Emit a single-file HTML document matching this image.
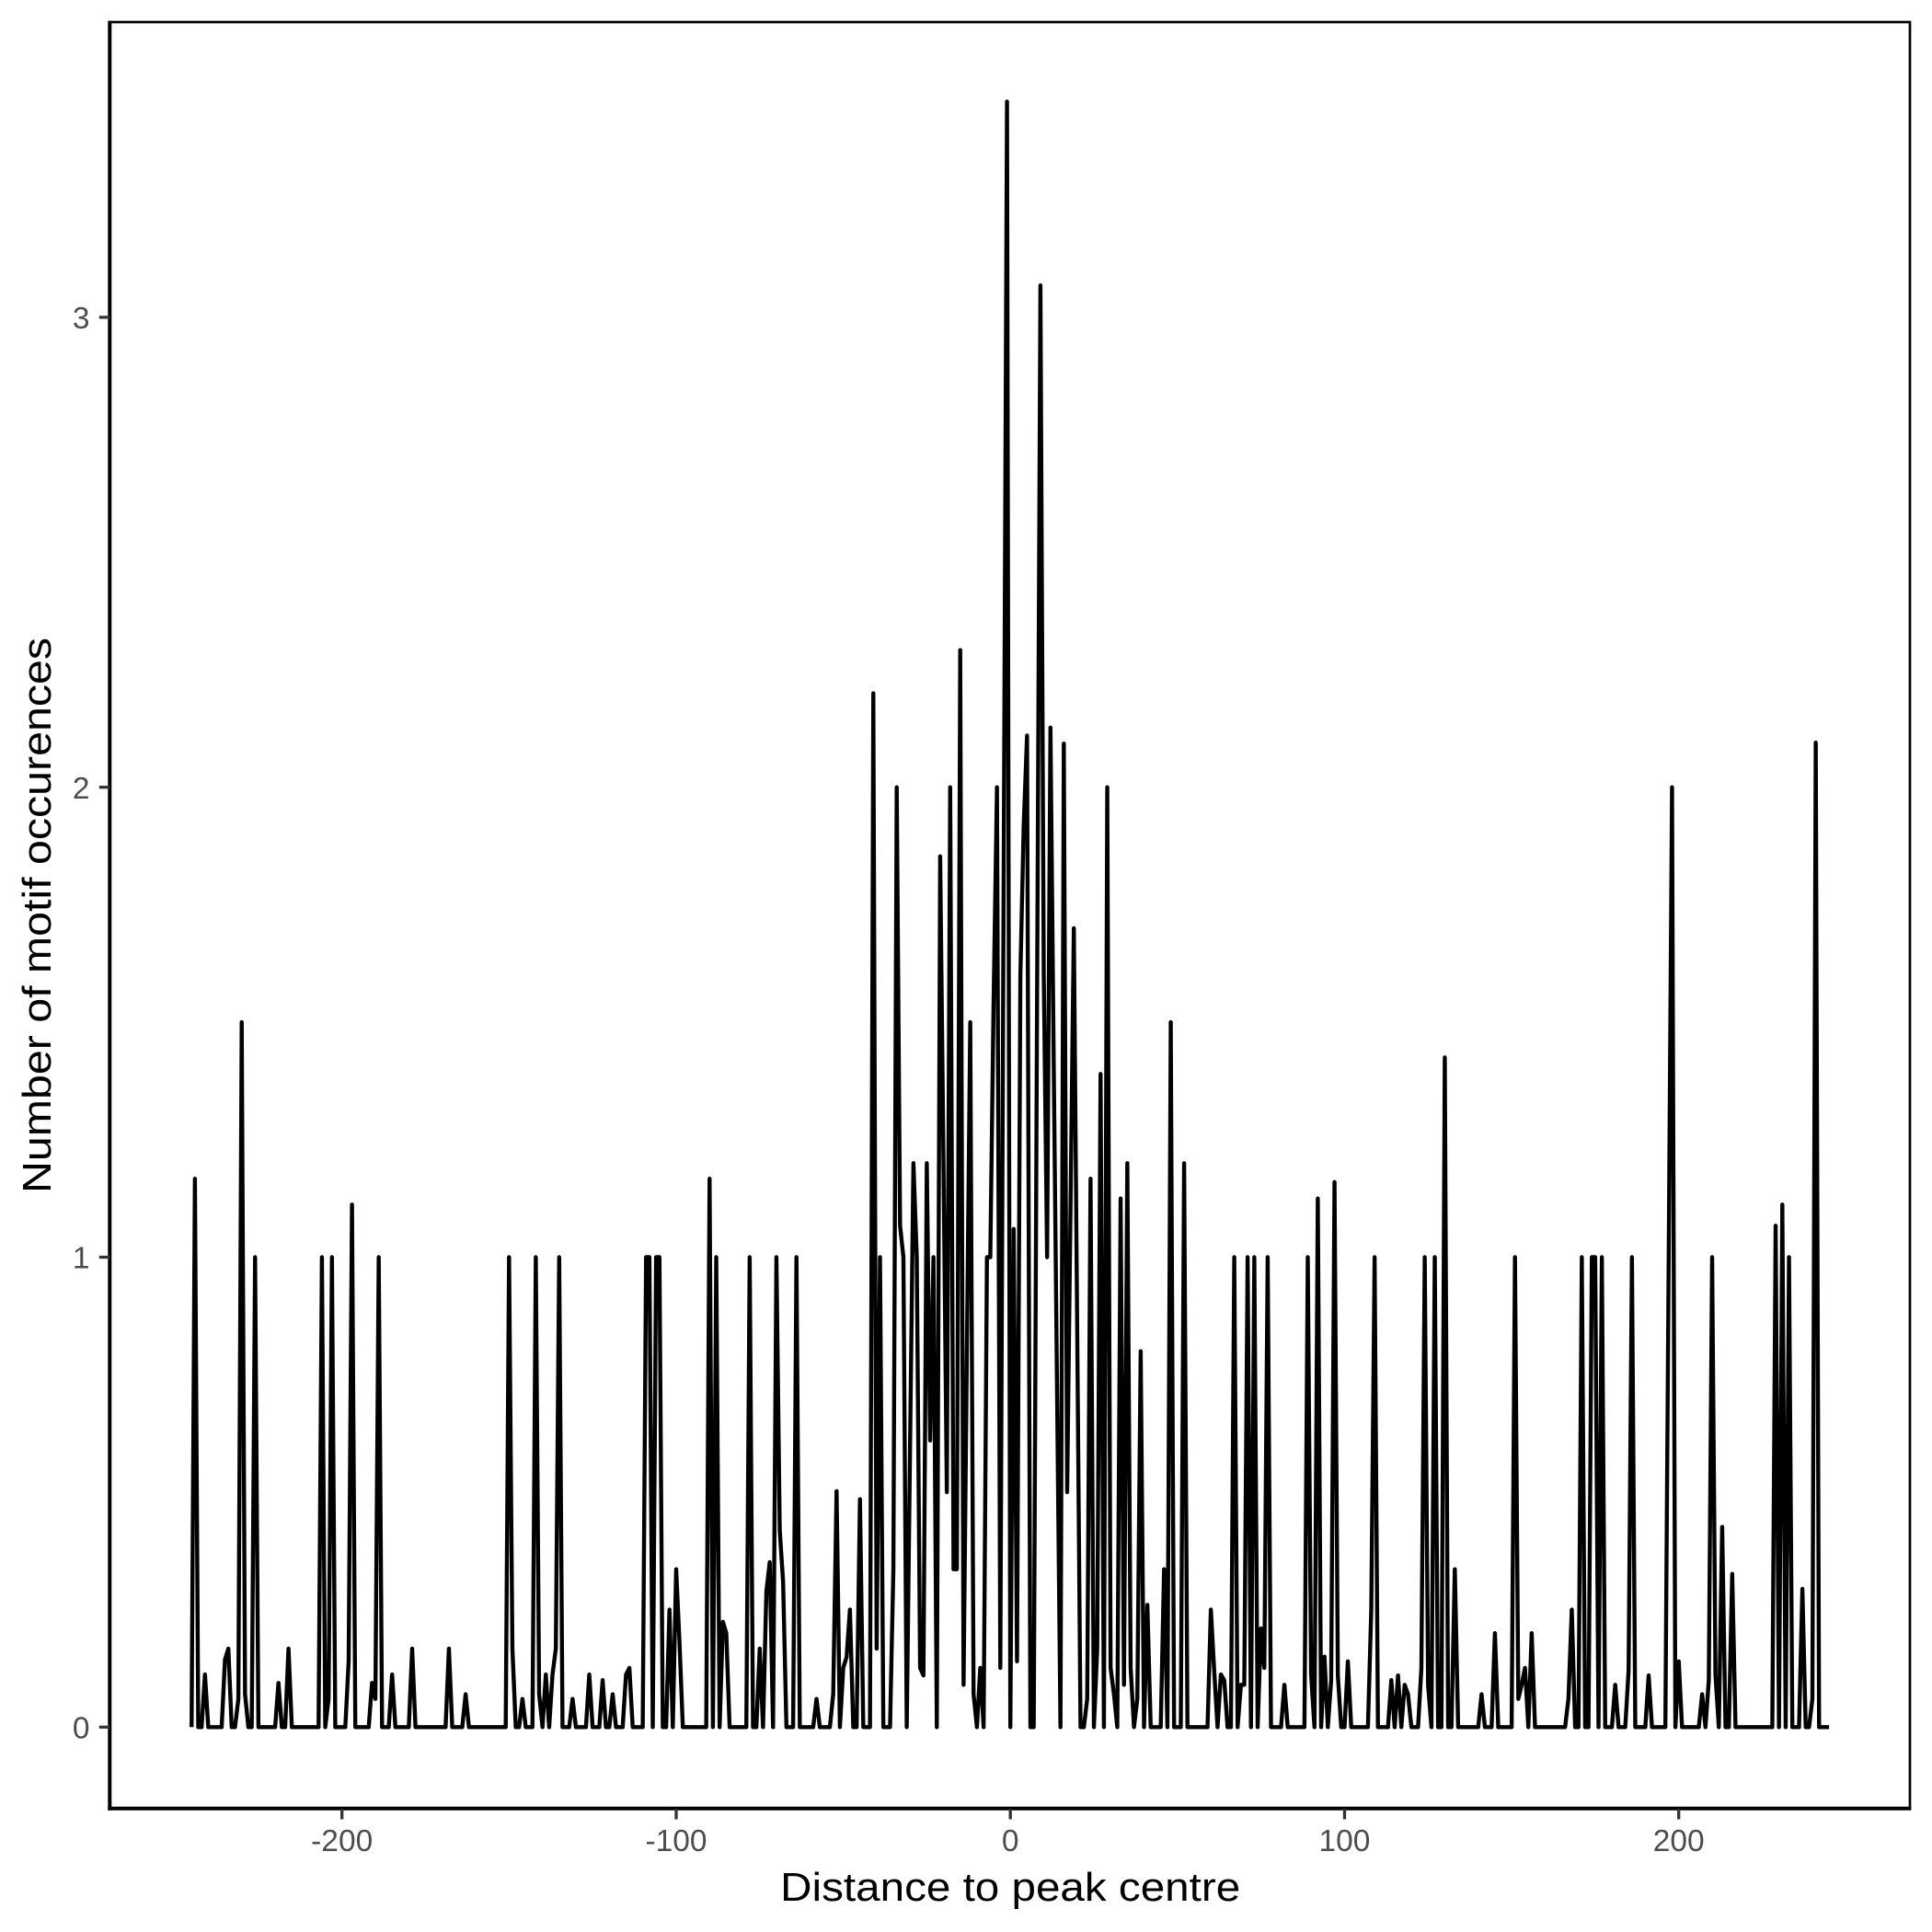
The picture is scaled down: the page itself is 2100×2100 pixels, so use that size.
<!DOCTYPE html>
<html>
<head>
<meta charset="utf-8">
<style>
  html, body { margin: 0; padding: 0; background: #ffffff; }
  svg { display: block; }
</style>
</head>
<body>
<svg width="2100" height="2100" viewBox="0 0 2100 2100" xmlns="http://www.w3.org/2000/svg">
  <rect x="0" y="0" width="2100" height="2100" fill="#ffffff"/>

  <!-- data line -->
  <g transform="translate(1098.2 1877.3) scale(3.6325 -510.8)">
    <polyline fill="none" stroke="#000000" stroke-width="4.4" stroke-linejoin="round" stroke-linecap="butt" vector-effect="non-scaling-stroke"
      points="-245,0 -244,1.167 -243,0 -242,0 -241,0.112 -240,0 -236,0 -235,0.144 -234,0.167 -233,0 -232,0 -231,0.06 -230,1.5 -229,0.07 -228,0 -227,0 -226,1 -225,0 -220,0 -219,0.094 -218,0 -217,0 -216,0.167 -215,0 -207,0 -206,1 -205,0 -204,0.06 -203,1 -202,0 -199,0 -198,0.14 -197,1.112 -196,0 -192,0 -191,0.094 -190,0.06 -189,1 -188,0 -186,0 -185,0.112 -184,0 -180,0 -179,0.167 -178,0 -169,0 -168,0.167 -167,0 -164,0 -163,0.07 -162,0 -151,0 -150,1 -149,0.167 -148,0 -147,0 -146,0.06 -145,0 -143,0 -142,1 -141,0.07 -140,0 -139,0.112 -138,0 -137,0.112 -136,0.167 -135,1 -134,0 -132,0 -131,0.06 -130,0 -127,0 -126,0.112 -125,0 -123,0 -122,0.1 -121,0 -120,0 -119,0.07 -118,0 -116,0 -115,0.112 -114,0.126 -113,0 -110,0 -109,1 -108,1 -107,0 -106,1 -105,1 -104,0 -103,0 -102,0.25 -101,0 -100,0.336 -99,0.18 -98,0 -91,0 -90,1.167 -89,0 -88,1 -87,0 -86,0.224 -85,0.2 -84,0 -79,0 -78,1 -77,0 -76,0 -75,0.167 -74,0 -73,0.289 -72,0.351 -71,0 -70,1 -69,0.419 -68,0.309 -67,0 -65,0 -64,1 -63,0 -59,0 -58,0.06 -57,0 -54,0 -53,0.07 -52,0.502 -51,0 -50,0.126 -49,0.149 -48,0.25 -47,0 -46,0 -45,0.485 -44,0 -42,0 -41,2.2 -40,0.167 -39,1 -38,0 -36,0 -35,0.336 -34,2 -33,1.067 -32,1 -31,0 -30,0.6 -29,1.2 -28,1 -27,0.126 -26,0.11 -25,1.2 -24,0.61 -23,1 -22,0 -21,1.853 -20,1.2 -19,0.5 -18,2 -17,0.336 -16,0.336 -15,2.292 -14,0.09 -13,0.8 -12,1.5 -11,0.07 -10,0 -9,0.126 -8,0 -7,1 -6,1 -5,1.55 -4,2 -3,0.126 -2,1.8 -1,3.459 0,0 1,1.06 2,0.14 3,1.6 4,1.92 5,2.11 6,0 7,0 8,1.55 9,3.068 10,1.6 11,1 12,2.127 13,1.4 14,0.7 15,0 16,2.093 17,0.5 18,1.1 19,1.7 20,0.85 21,0 22,0 23,0.06 24,1.167 25,0 26,0.167 27,1.39 28,0 29,2 30,0.126 31,0.07 32,0 33,1.125 34,0.09 35,1.2 36,0.126 37,0 38,0.06 39,0.8 40,0 41,0.26 42,0 45,0 46,0.336 47,0 48,1.5 49,0 51,0 52,1.2 53,0 59,0 60,0.25 61,0.12 62,0 63,0.112 64,0.1 65,0 66,0 67,1 68,0 69,0.09 70,0.09 71,1 72,0 73,1 74,0 75,0.21 76,0.126 77,1 78,0 81,0 82,0.09 83,0 88,0 89,1 90,0.112 91,0 92,1.125 93,0 94,0.15 95,0 96,0.1 97,1.16 98,0.11 99,0 100,0 101,0.14 102,0 107,0 108,0.25 109,1 110,0 113,0 114,0.1 115,0 116,0.11 117,0 118,0.09 119,0.07 120,0 122,0 123,0.126 124,1 125,0.09 126,0 127,1 128,0 129,0 130,1.425 131,0 132,0 133,0.336 134,0 140,0 141,0.07 142,0 144,0 145,0.2 146,0 150,0 151,1 152,0.06 153,0.09 154,0.126 155,0 156,0.2 157,0 166,0 167,0.06 168,0.25 169,0 170,0 171,1 172,0 173,0 174,1 175,1 176,0 177,1 178,0 180,0 181,0.09 182,0 184,0 185,0.12 186,1 187,0 190,0 191,0.11 192,0 196,0 197,1 198,2 199,0 200,0.14 201,0 206,0 207,0.07 208,0 209,0.1 210,1 211,0.11 212,0 213,0.426 214,0 215,0 216,0.326 217,0 228,0 229,1.067 230,0 231,1.112 232,0 233,1 234,0 236,0 237,0.294 238,0 239,0 240,0.06 241,2.095 242,0 245,0"/>
  </g>

  <!-- panel border (thin) -->
  <rect x="119.3" y="24" width="1956.7" height="1941.7" fill="none" stroke="#000000" stroke-width="2.7"/>
  <!-- axis lines (thicker) -->
  <line x1="119.3" y1="22.7" x2="119.3" y2="1967.7" stroke="#000000" stroke-width="4"/>
  <line x1="117.3" y1="1965.7" x2="2077.3" y2="1965.7" stroke="#000000" stroke-width="4"/>

  <!-- y ticks -->
  <g stroke="#333333" stroke-width="3.3">
    <line x1="107.8" y1="1877.3" x2="119.3" y2="1877.3"/>
    <line x1="107.8" y1="1366.5" x2="119.3" y2="1366.5"/>
    <line x1="107.8" y1="855.7" x2="119.3" y2="855.7"/>
    <line x1="107.8" y1="344.9" x2="119.3" y2="344.9"/>
  </g>
  <!-- x ticks -->
  <g stroke="#333333" stroke-width="3.3">
    <line x1="371.7" y1="1966" x2="371.7" y2="1977.5"/>
    <line x1="735.0" y1="1966" x2="735.0" y2="1977.5"/>
    <line x1="1098.2" y1="1966" x2="1098.2" y2="1977.5"/>
    <line x1="1461.5" y1="1966" x2="1461.5" y2="1977.5"/>
    <line x1="1824.7" y1="1966" x2="1824.7" y2="1977.5"/>
  </g>

  <!-- y tick labels -->
  <g font-family="'Liberation Sans', 'DejaVu Sans', sans-serif" font-size="33.5" fill="#4D4D4D" text-anchor="end">
    <text x="97.5" y="1889.5">0</text>
    <text x="97.5" y="1378.7">1</text>
    <text x="97.5" y="867.9">2</text>
    <text x="97.5" y="357.1">3</text>
  </g>
  <!-- x tick labels -->
  <g font-family="'Liberation Sans', 'DejaVu Sans', sans-serif" font-size="33.5" fill="#4D4D4D" text-anchor="middle">
    <text x="371.7" y="2012">-200</text>
    <text x="735.0" y="2012">-100</text>
    <text x="1098.2" y="2012">0</text>
    <text x="1461.5" y="2012">100</text>
    <text x="1824.7" y="2012">200</text>
  </g>

  <!-- axis titles -->
  <text x="1098.2" y="2066" font-family="'Liberation Sans', 'DejaVu Sans', sans-serif" font-size="44" fill="#000000" text-anchor="middle" textLength="500" lengthAdjust="spacingAndGlyphs">Distance to peak centre</text>
  <text transform="translate(55 995) rotate(-90)" x="0" y="0" font-family="'Liberation Sans', 'DejaVu Sans', sans-serif" font-size="44" fill="#000000" text-anchor="middle" textLength="604" lengthAdjust="spacingAndGlyphs">Number of motif occurences</text>
</svg>
</body>
</html>
